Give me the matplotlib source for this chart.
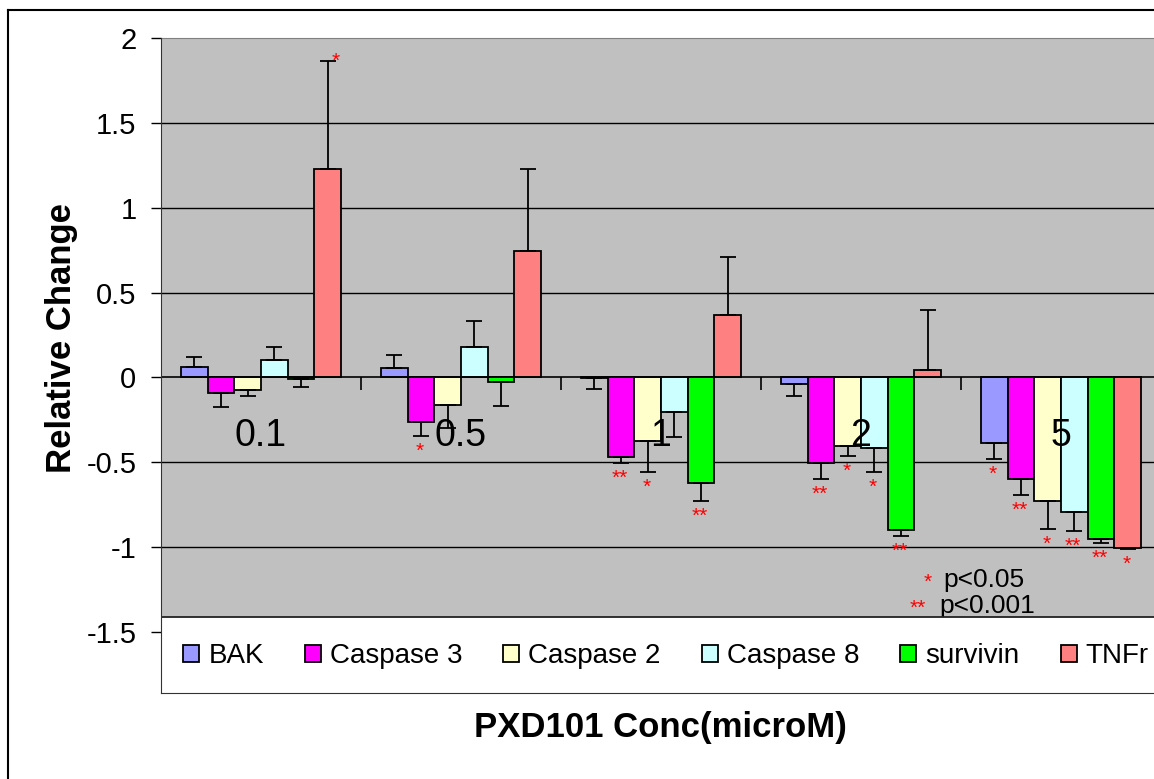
import numpy as np
import matplotlib
matplotlib.use("Agg")
import matplotlib.pyplot as plt
from matplotlib.lines import Line2D
from matplotlib.patches import Rectangle

plt.rcParams['font.family'] = ['Liberation Sans', 'DejaVu Sans']

concs = ['0.1', '0.5', '1', '2', '5']
genes = ['BAK', 'Caspase 3', 'Caspase 2', 'Caspase 8', 'survivin', 'TNFr']
colors = ['#9999FF', '#FF00FF', '#FFFFCC', '#CCFFFF', '#00FF00', '#FF8080']

# mean relative change per gene, one value per concentration
bak = [0.063, 0.054, -0.005, -0.041, -0.385]
casp3 = [-0.094, -0.265, -0.469, -0.506, -0.600]
casp2 = [-0.074, -0.163, -0.375, -0.402, -0.728]
casp8 = [0.103, 0.181, -0.206, -0.418, -0.795]
survivin = [-0.008, -0.025, -0.624, -0.899, -0.952]
tnfr = [1.226, 0.745, 0.368, 0.044, -1.003]

# error bar lengths (drawn away from zero)
bak_err = [0.059, 0.076, 0.063, 0.069, 0.096]
casp3_err = [0.079, 0.078, 0.037, 0.094, 0.093]
casp2_err = [0.036, 0.137, 0.182, 0.059, 0.165]
casp8_err = [0.078, 0.153, 0.143, 0.138, 0.112]
survivin_err = [0.050, 0.145, 0.104, 0.036, 0.024]
tnfr_err = [0.638, 0.485, 0.342, 0.351, 0.008]

# significance marks
bak_sig = ['', '', '', '', '*']
casp3_sig = ['', '*', '**', '**', '**']
casp2_sig = ['', '', '*', '*', '*']
casp8_sig = ['', '', '', '*', '**']
survivin_sig = ['', '', '**', '**', '**']
tnfr_sig = ['*', '', '', '', '*']

values = [bak, casp3, casp2, casp8, survivin, tnfr]
errors = [bak_err, casp3_err, casp2_err, casp8_err, survivin_err, tnfr_err]
marks = [bak_sig, casp3_sig, casp2_sig, casp8_sig, survivin_sig, tnfr_sig]

W, H = 1154, 779
fig = plt.figure(figsize=(W / 100, H / 100), dpi=100)
ax = fig.add_axes([161 / W, 1 - 693 / H, 1000 / W, 655 / H])
ax.set_xlim(-0.5, 4.5)
ax.set_ylim(-1.86, 2)

legend_top = -1.412
ax.set_facecolor('white')
ax.axhspan(legend_top, 2, color='#C0C0C0', zorder=0)
for g in [1.5, 1, 0.5, -0.5, -1]:
    ax.axhline(g, color='black', lw=1.0, zorder=0.5)

x = np.arange(len(concs))
bw = 2 / 15
for i, (vals, errs, sig) in enumerate(zip(values, errors, marks)):
    vals = np.array(vals)
    errs = np.array(errs)
    pos = x + (i - 2.5) * bw
    lower = np.where(vals < 0, errs, 0)
    upper = np.where(vals >= 0, errs, 0)
    ax.bar(pos, vals, bw, color=colors[i], edgecolor='black', lw=1.3,
           label=genes[i], zorder=2)
    ax.errorbar(pos, vals, yerr=[lower, upper], fmt='none', ecolor='black',
                elinewidth=1.3, capsize=6, capthick=1.3, zorder=3)
    for p, v, e, s in zip(pos, vals, errs, sig):
        if not s:
            continue
        if v >= 0:
            ax.annotate(s, (p, v + e), xytext=(6, 0), textcoords='offset points',
                        ha='center', va='center', color='red', fontsize=15, zorder=4)
        else:
            ax.annotate(s, (p, v - e), xytext=(-1, -11), textcoords='offset points',
                        ha='center', va='center', color='red', fontsize=15, zorder=4)

ax.axhline(0, color='black', lw=1.2, zorder=2.5)
# category tick marks on the zero line
ax.vlines(x[:-1] + 0.5, -0.077, 0, color='black', lw=1.2, zorder=2.5)
for xi, c in zip(x, concs):
    ax.text(xi, -0.345, c, ha='center', va='center', fontsize=27, zorder=4)

# significance key
ax.text(3.333, -1.21, '*', color='red', ha='center', va='center', fontsize=15)
ax.text(3.41, -1.196, 'p<0.05', ha='left', va='center', fontsize=19)
ax.text(3.282, -1.36, '**', color='red', ha='center', va='center', fontsize=15)
ax.text(3.39, -1.349, 'p<0.001', ha='left', va='center', fontsize=19)

# white legend strip across the bottom of the plot area
ax.add_patch(Rectangle((-0.5, -1.86), 5, legend_top + 1.86, facecolor='white',
                       edgecolor='none', zorder=5))
ax.axhline(legend_top, color='#222222', lw=1.3, zorder=6)
leg = ax.legend(ncol=6, loc='center left', bbox_to_anchor=(0.022, 0.0565),
                frameon=False, fontsize=20, handlelength=0.58, handleheight=0.58,
                handletextpad=0.33, columnspacing=1.47, borderpad=0, borderaxespad=0)
leg.set_zorder(7)

ax.set_yticks([2, 1.5, 1, 0.5, 0, -0.5, -1, -1.5])
ax.set_yticklabels(['2', '1.5', '1', '0.5', '0', '-0.5', '-1', '-1.5'])
ax.tick_params(axis='y', labelsize=21, length=7.2, width=1, pad=10.5, colors='black')
ax.set_xticks([])
ax.spines['right'].set_visible(False)
ax.spines['top'].set_color('#808080')
ax.spines['left'].set_color('#333333')
ax.spines['bottom'].set_color('#333333')
ax.spines['left'].set_zorder(8)
ax.spines['bottom'].set_zorder(8)

fig.text(62 / W, 1 - 338 / H, 'Relative Change', rotation=90, ha='center',
         va='center', fontsize=25, fontweight='bold')
fig.text(660 / W, 1 - 727 / H, 'PXD101 Conc(microM)', ha='center', va='center',
         fontsize=25, fontweight='bold')

# chart frame
fig.add_artist(Line2D([8 / W, 8 / W], [0, 1 - 10 / H], color='black', lw=1.5))
fig.add_artist(Line2D([8 / W, 1], [1 - 10 / H, 1 - 10 / H], color='black', lw=1.5))

fig.savefig('out.png', dpi=100)
